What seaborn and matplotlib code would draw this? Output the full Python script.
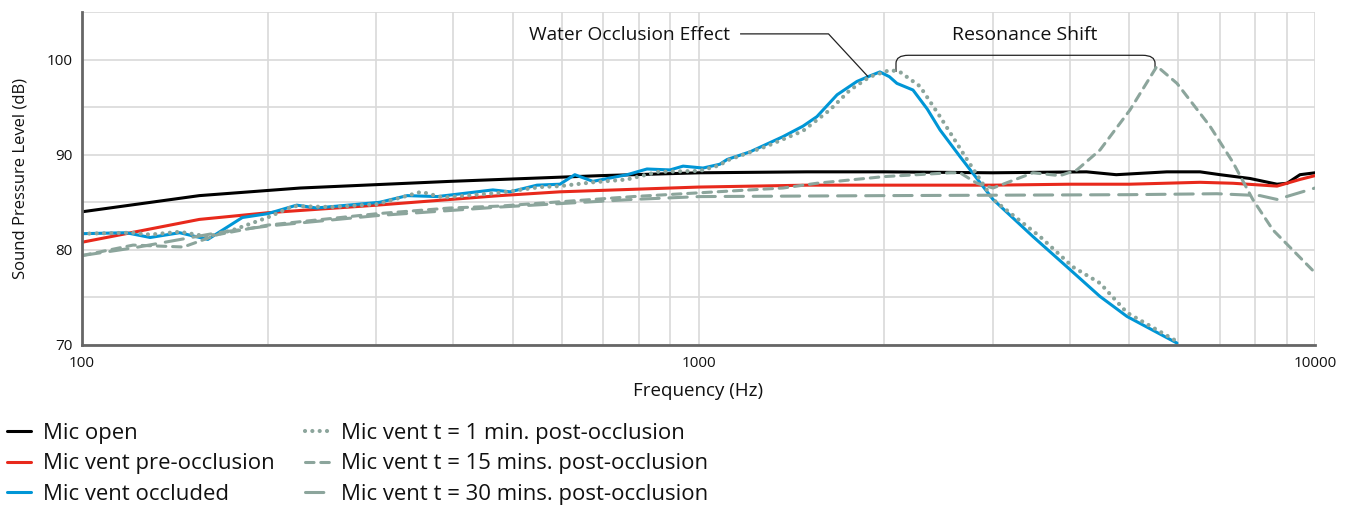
import numpy as np
import pandas as pd
import matplotlib
matplotlib.use("Agg")
import matplotlib.pyplot as plt
from matplotlib.path import Path
from matplotlib.patches import PathPatch
from matplotlib.ticker import FixedLocator, NullFormatter, FixedFormatter
import seaborn as sns

# ---------------- data ----------------
open_f = [100, 155, 226, 396, 693, 1005, 1500, 2000, 3000, 4260, 4760, 5750, 6509, 7015, 7847, 8678, 9009, 9455, 10000]
open_v = [84.0, 85.7, 86.5, 87.2, 87.8, 88.1, 88.2, 88.2, 88.1, 88.2, 87.9, 88.2, 88.2, 87.9, 87.5, 86.9, 87.0, 87.9, 88.1]

pre_f = [100, 155, 200, 301, 476, 596, 1000, 1500, 2000, 3000, 4000, 5000, 6509, 7360, 8678, 9455, 10000]
pre_v = [80.8, 83.2, 83.9, 84.7, 85.7, 86.1, 86.6, 86.8, 86.8, 86.8, 86.9, 86.9, 87.1, 87.0, 86.7, 87.4, 87.8]

occ_f = [100, 118, 129, 144, 160, 182, 200, 223, 240, 304, 337, 377, 464, 495, 547, 596, 630, 674, 766, 825, 899, 944, 1017,
         1083, 1113, 1212, 1371, 1477, 1556, 1678, 1807, 1900, 1969, 2040, 2098, 2228, 2350, 2465, 2656, 3004, 3487, 3962,
         4480, 4955, 5972]
occ_v = [81.7, 81.8, 81.3, 81.8, 81.1, 83.4, 83.8, 84.7, 84.4, 85.0, 85.7, 85.6, 86.3, 86.1, 86.8, 86.9, 87.9, 87.2, 87.9, 88.5,
         88.4, 88.8, 88.6, 89.0, 89.5, 90.3, 91.9, 93.0, 94.0, 96.3, 97.7, 98.3, 98.7, 98.2, 97.5, 96.8, 94.8, 92.6, 89.8, 85.3,
         81.4, 78.2, 75.1, 73.0, 70.2]

t1_f = [100, 121, 129, 144, 160, 176, 200, 220, 255, 301, 355, 385, 476, 553, 596, 674, 766, 860, 1005, 1083, 1113, 1291, 1477,
        1633, 1761, 1897, 2045, 2122, 2286, 2465, 2726, 3004, 3580, 4049, 4480, 4955, 6040]
t1_v = [81.7, 81.8, 81.6, 81.9, 81.4, 82.1, 83.4, 84.6, 84.5, 84.8, 86.1, 85.5, 86.0, 86.6, 86.7, 87.1, 87.4, 88.2, 88.3, 88.9,
        89.4, 90.9, 92.5, 94.7, 96.8, 98.2, 98.9, 98.7, 97.2, 94.0, 89.5, 85.3, 81.4, 78.2, 76.5, 73.4, 70.2]

t15_f = [100, 121, 146, 166, 200, 301, 395, 476, 783, 1005, 1371, 1556, 2000, 2559, 2656, 2829, 3004, 3487, 3858, 4110, 4480,
         5010, 5541, 5972, 6755, 7360, 7926, 8544, 10000]
t15_v = [79.4, 80.5, 80.3, 81.6, 82.6, 83.8, 84.4, 84.6, 85.6, 86.0, 86.5, 87.0, 87.7, 88.1, 88.1, 87.0, 86.5, 88.1, 87.8, 88.4, 90.5,
         94.7, 99.3, 97.5, 93.0, 89.2, 85.3, 82.1, 77.6]

t30_f = [100, 121, 166, 200, 301, 476, 783, 1005, 2000, 5000, 6934, 8145, 8678, 10000]
t30_v = [79.4, 80.2, 81.8, 82.5, 83.6, 84.5, 85.3, 85.6, 85.7, 85.8, 85.9, 85.7, 85.3, 86.5]

labels = ["Mic open", "Mic vent pre-occlusion", "Mic vent occluded",
          "Mic vent t = 1 min. post-occlusion", "Mic vent t = 15 mins. post-occlusion",
          "Mic vent t = 30 mins. post-occlusion"]

x_ticks = [100, 1000, 10000]
x_tick_labels = ["100", "1000", "10000"]
y_ticks = [70, 80, 90, 100]
y_tick_labels = ["70", "80", "90", "100"]

# ---------------- style ----------------
sns.set_style("white")
plt.rcParams["font.family"] = ["Open Sans", "DejaVu Sans"]
plt.rcParams["lines.solid_capstyle"] = "round"

BLACK = "#000000"
RED = "#e8291c"
BLUE = "#0096d6"
GREEN = "#8ca59c"
TXT = "#111111"

fig = plt.figure(figsize=(13.52, 5.07), dpi=100)
ax = fig.add_axes([82 / 1352, 1 - 345 / 507, (1315 - 82) / 1352, (345 - 12) / 507])

series = [
    (open_f, open_v, BLACK, "-", 2.2),
    (pre_f, pre_v, RED, "-", 2.2),
    (occ_f, occ_v, BLUE, "-", 2.2),
    (t1_f, t1_v, GREEN, (0, (0.01, 1.75)), 3.0),
    (t15_f, t15_v, GREEN, (0, (2.8, 2.2)), 2.2),
    (t30_f, t30_v, GREEN, (0, (6.0, 3.2)), 2.2),
]

handles = []
for (f, v, c, ls, lw), lab in zip(series, labels):
    df = pd.DataFrame({"f": f, "v": v})
    sns.lineplot(data=df, x="f", y="v", ax=ax, color=c, lw=lw, label=lab, legend=False)
    ln = ax.get_lines()[-1]
    ln.set_linestyle(ls)
    ln.set_dash_capstyle("round")
    handles.append(ln)

ax.set_xscale("log")
ax.set_xlim(100, 10000)
ax.set_ylim(70, 105)

ax.xaxis.set_major_locator(FixedLocator(x_ticks))
ax.xaxis.set_major_formatter(FixedFormatter(x_tick_labels))
ax.xaxis.set_minor_locator(FixedLocator([m * d for d in (100, 1000) for m in range(2, 10)]))
ax.xaxis.set_minor_formatter(NullFormatter())
ax.yaxis.set_major_locator(FixedLocator(y_ticks))
ax.yaxis.set_major_formatter(FixedFormatter(y_tick_labels))
ax.yaxis.set_minor_locator(FixedLocator([75, 85, 95, 105]))

ax.grid(which="both", color="#d9d9d9", lw=1.2)
ax.set_axisbelow(True)
for s in ("top", "right"):
    ax.spines[s].set_visible(False)
for s in ("left", "bottom"):
    ax.spines[s].set_color("#666666")
    ax.spines[s].set_linewidth(2.0)
ax.tick_params(which="both", length=0, labelsize=11, colors=TXT)
ax.tick_params(axis="x", pad=8)
ax.tick_params(axis="y", pad=7)

ax.set_xlabel("Frequency (Hz)", fontsize=13.5, labelpad=8, color=TXT)
ax.set_ylabel("Sound Pressure Level (dB)", fontsize=12, labelpad=13, color=TXT)

# ---------------- annotations ----------------
ax.text(1125, 102.6, "Water Occlusion Effect", ha="right", va="center", fontsize=13.8, color=TXT)
ax.plot([1168, 1625, 1884], [102.7, 102.7, 98.2], color="#222222", lw=0.9, solid_capstyle="butt")

ax.text(3385, 102.6, "Resonance Shift", ha="center", va="center", fontsize=14, color=TXT)
verts = [(2091, 98.7), (2091, 99.6), (2091, 100.45), (2190, 100.45), (5250, 100.45),
         (5502, 100.45), (5502, 99.6), (5502, 98.8)]
codes = [Path.MOVETO, Path.LINETO, Path.CURVE3, Path.CURVE3, Path.LINETO,
         Path.CURVE3, Path.CURVE3, Path.LINETO]
ax.add_patch(PathPatch(Path(verts, codes), fill=False, ec="#222222", lw=0.9))

# ---------------- legend ----------------
fig.legend(handles=handles, labels=labels, ncol=2, loc="upper left",
           bbox_to_anchor=(7 / 1352, 1 - 423 / 507), frameon=False, fontsize=15.9,
           handlelength=1.1, handletextpad=0.55, columnspacing=1.35,
           labelspacing=0.43, borderaxespad=0.0, borderpad=0.0, labelcolor=TXT)

fig.savefig("out.png", dpi=100)
